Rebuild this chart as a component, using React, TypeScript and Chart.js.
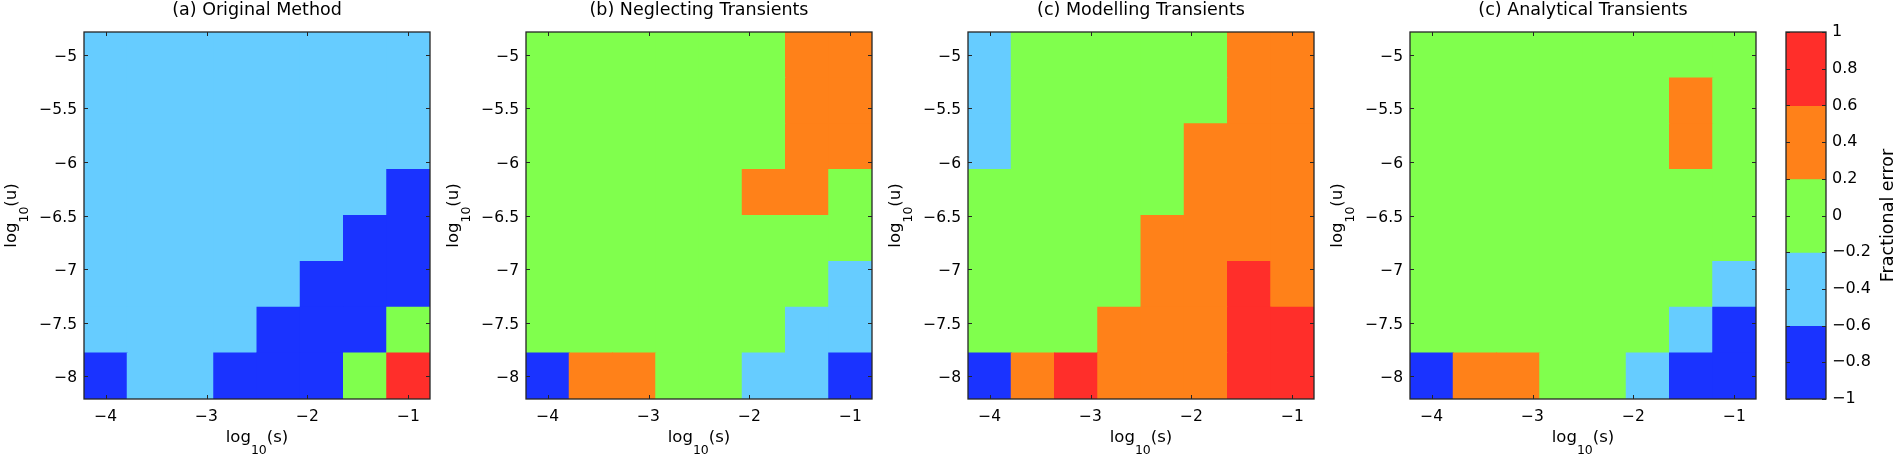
import React, { useEffect, useRef } from "react";
import { Chart, registerables } from "chart.js";

Chart.register(...registerables);

// ---------- data ----------
// log10(s) cell centres (columns, left to right)
const sLog = [-4, -3.5714, -3.1429, -2.7143, -2.2857, -1.8571, -1.4286, -1];
// log10(u) cell centres (rows, top to bottom)
const uLog = [-5, -5.4286, -5.8571, -6.2857, -6.7143, -7.1429, -7.5714, -8];

const xTicks = [-4, -3, -2, -1];
const yTicks = [-8, -7.5, -7, -6.5, -6, -5.5, -5];
const cbTicks = [-1, -0.8, -0.6, -0.4, -0.2, 0, 0.2, 0.4, 0.6, 0.8, 1];

const binEdges = [-1, -0.6, -0.2, 0.2, 0.6, 1];
const binColors = ["#1a33ff", "#66ccff", "#80ff4d", "#ff8119", "#ff2e2a"];

const panelTitles = [
  "(a) Original Method",
  "(b) Neglecting Transients",
  "(c) Modelling Transients",
  "(c) Analytical Transients",
];

// fractional error, rows top (u=-5) to bottom (u=-8)
const errOriginal = [
  [-0.4, -0.4, -0.4, -0.4, -0.4, -0.4, -0.4, -0.4],
  [-0.4, -0.4, -0.4, -0.4, -0.4, -0.4, -0.4, -0.4],
  [-0.4, -0.4, -0.4, -0.4, -0.4, -0.4, -0.4, -0.4],
  [-0.4, -0.4, -0.4, -0.4, -0.4, -0.4, -0.4, -0.8],
  [-0.4, -0.4, -0.4, -0.4, -0.4, -0.4, -0.8, -0.8],
  [-0.4, -0.4, -0.4, -0.4, -0.4, -0.8, -0.8, -0.8],
  [-0.4, -0.4, -0.4, -0.4, -0.8, -0.8, -0.8, 0.0],
  [-0.8, -0.4, -0.4, -0.8, -0.8, -0.8, 0.0, 0.8],
];
const errNeglecting = [
  [0.0, 0.0, 0.0, 0.0, 0.0, 0.0, 0.4, 0.4],
  [0.0, 0.0, 0.0, 0.0, 0.0, 0.0, 0.4, 0.4],
  [0.0, 0.0, 0.0, 0.0, 0.0, 0.0, 0.4, 0.4],
  [0.0, 0.0, 0.0, 0.0, 0.0, 0.4, 0.4, 0.0],
  [0.0, 0.0, 0.0, 0.0, 0.0, 0.0, 0.0, 0.0],
  [0.0, 0.0, 0.0, 0.0, 0.0, 0.0, 0.0, -0.4],
  [0.0, 0.0, 0.0, 0.0, 0.0, 0.0, -0.4, -0.4],
  [-0.8, 0.4, 0.4, 0.0, 0.0, -0.4, -0.4, -0.8],
];
const errModelling = [
  [-0.4, 0.0, 0.0, 0.0, 0.0, 0.0, 0.4, 0.4],
  [-0.4, 0.0, 0.0, 0.0, 0.0, 0.0, 0.4, 0.4],
  [-0.4, 0.0, 0.0, 0.0, 0.0, 0.4, 0.4, 0.4],
  [0.0, 0.0, 0.0, 0.0, 0.0, 0.4, 0.4, 0.4],
  [0.0, 0.0, 0.0, 0.0, 0.4, 0.4, 0.4, 0.4],
  [0.0, 0.0, 0.0, 0.0, 0.4, 0.4, 0.8, 0.4],
  [0.0, 0.0, 0.0, 0.4, 0.4, 0.4, 0.8, 0.8],
  [-0.8, 0.4, 0.8, 0.4, 0.4, 0.4, 0.8, 0.8],
];
const errAnalytical = [
  [0.0, 0.0, 0.0, 0.0, 0.0, 0.0, 0.0, 0.0],
  [0.0, 0.0, 0.0, 0.0, 0.0, 0.0, 0.4, 0.0],
  [0.0, 0.0, 0.0, 0.0, 0.0, 0.0, 0.4, 0.0],
  [0.0, 0.0, 0.0, 0.0, 0.0, 0.0, 0.0, 0.0],
  [0.0, 0.0, 0.0, 0.0, 0.0, 0.0, 0.0, 0.0],
  [0.0, 0.0, 0.0, 0.0, 0.0, 0.0, 0.0, -0.4],
  [0.0, 0.0, 0.0, 0.0, 0.0, 0.0, -0.4, -0.8],
  [-0.8, 0.4, 0.4, 0.0, 0.0, -0.4, -0.8, -0.8],
];

const panelErrors = [errOriginal, errNeglecting, errModelling, errAnalytical];

// ---------- helpers ----------
const FONT = '"DejaVu Sans", sans-serif';
const INK = "#000000";
const FRAME = "#262626";

function colorFor(v: number): string {
  for (let i = 0; i < binColors.length; i++) {
    if (v < binEdges[i + 1] || i === binColors.length - 1) return binColors[i];
  }
  return binColors[binColors.length - 1];
}

function fmt(v: number): string {
  const r = Math.round(v * 10) / 10;
  if (r === 0) return "0";
  return (r < 0 ? "\u2212" : "") + String(Math.abs(r));
}

function drawLogLabel(
  ctx: CanvasRenderingContext2D,
  variable: string,
  cx: number,
  cy: number,
  rotated: boolean
) {
  const mainF = `16.5px ${FONT}`;
  const subF = `12.5px ${FONT}`;
  const parts: [string, string, number][] = [
    ["log", mainF, 0],
    ["10", subF, 12],
    [`(${variable})`, mainF, 0],
  ];
  ctx.save();
  let total = 0;
  const widths = parts.map(([t, f]) => {
    ctx.font = f;
    const w = ctx.measureText(t).width;
    total += w;
    return w;
  });
  ctx.translate(cx, cy);
  if (rotated) ctx.rotate(-Math.PI / 2);
  ctx.fillStyle = INK;
  ctx.textAlign = "left";
  ctx.textBaseline = "alphabetic";
  let x = -total / 2;
  parts.forEach(([t, f, drop], i) => {
    ctx.font = f;
    ctx.fillText(t, x, drop);
    x += widths[i];
  });
  ctx.restore();
}

function drawInwardTicks(chart: any, doX: boolean) {
  const { ctx, chartArea: a, scales } = chart;
  const len = 4;
  ctx.save();
  ctx.strokeStyle = FRAME;
  ctx.lineWidth = 1;
  ctx.beginPath();
  if (doX && scales.x && scales.x.ticks) {
    for (const t of scales.x.ticks) {
      const px = Math.round(scales.x.getPixelForValue(t.value)) + 0.5;
      ctx.moveTo(px, a.bottom);
      ctx.lineTo(px, a.bottom - len);
      ctx.moveTo(px, a.top);
      ctx.lineTo(px, a.top + len);
    }
  }
  for (const t of scales.y.ticks) {
    const py = Math.round(scales.y.getPixelForValue(t.value)) + 0.5;
    ctx.moveTo(a.left, py);
    ctx.lineTo(a.left + len, py);
    ctx.moveTo(a.right, py);
    ctx.lineTo(a.right - len, py);
  }
  ctx.stroke();
  ctx.lineWidth = 1.3;
  ctx.strokeRect(a.left, a.top, a.right - a.left, a.bottom - a.top);
  ctx.restore();
}

const heatmapDecor = {
  id: "heatmapDecor",
  afterDraw(chart: any, _args: any, opts: any) {
    const { ctx, chartArea: a } = chart;
    drawInwardTicks(chart, true);
    const cx = (a.left + a.right) / 2;
    ctx.save();
    ctx.fillStyle = INK;
    ctx.font = `17.5px ${FONT}`;
    ctx.textAlign = "center";
    ctx.textBaseline = "alphabetic";
    ctx.fillText(opts.title, cx, 15);
    ctx.restore();
    drawLogLabel(ctx, "s", cx, 441.7, false);
    drawLogLabel(ctx, "u", a.left - 68, (a.top + a.bottom) / 2, true);
  },
};

const colorbarDecor = {
  id: "colorbarDecor",
  afterDraw(chart: any) {
    const { ctx, chartArea: a } = chart;
    drawInwardTicks(chart, false);
    ctx.save();
    ctx.translate(133, (a.top + a.bottom) / 2);
    ctx.rotate(-Math.PI / 2);
    ctx.fillStyle = INK;
    ctx.font = `17.5px ${FONT}`;
    ctx.textAlign = "center";
    ctx.textBaseline = "alphabetic";
    ctx.fillText("Fractional error", 0, 0);
    ctx.restore();
  },
};

// ---------- components ----------
const PANEL_W = 442;
const H = 459;

function Heatmap({ index }: { index: number }) {
  const ref = useRef<HTMLCanvasElement>(null);
  useEffect(() => {
    const grid = panelErrors[index];
    const halfX = Math.abs(sLog[1] - sLog[0]) / 2;
    const halfY = Math.abs(uLog[0] - uLog[1]) / 2;
    const cells: any[] = [];
    const colors: string[] = [];
    grid.forEach((row, r) => {
      row.forEach((v, c) => {
        cells.push({ x: sLog[c], y: [uLog[r] - halfY, uLog[r] + halfY], v });
        colors.push(colorFor(v));
      });
    });
    const tickFont = { family: FONT, size: 15.5 };
    const chart = new Chart(ref.current as HTMLCanvasElement, {
      type: "bar",
      data: {
        datasets: [
          {
            data: cells,
            backgroundColor: colors,
            borderWidth: 0,
            barPercentage: 1,
            categoryPercentage: 1,
            inflateAmount: 0.5,
          } as any,
        ],
      },
      options: {
        responsive: false,
        animation: false,
        events: [],
        layout: { padding: { top: 32, right: 12, bottom: 0, left: 0 } },
        plugins: {
          legend: { display: false },
          tooltip: { enabled: false },
          heatmapDecor: { title: panelTitles[index] },
        } as any,
        scales: {
          x: {
            type: "linear",
            offset: false,
            min: sLog[0] - halfX,
            max: sLog[sLog.length - 1] + halfX,
            afterBuildTicks: (s: any) => {
              s.ticks = xTicks.map((v) => ({ value: v }));
            },
            afterFit: (s: any) => {
              s.height = H - 399;
            },
            grid: { display: false, drawTicks: false, offset: false },
            border: { display: false },
            ticks: {
              color: INK,
              font: tickFont,
              padding: 9,
              maxRotation: 0,
              autoSkip: false,
              callback: (v: any) => fmt(Number(v)),
            },
          },
          y: {
            type: "linear",
            min: uLog[uLog.length - 1] - halfY,
            max: uLog[0] + halfY,
            afterBuildTicks: (s: any) => {
              s.ticks = yTicks.map((v) => ({ value: v }));
            },
            afterFit: (s: any) => {
              s.width = 84;
            },
            grid: { display: false, drawTicks: false },
            border: { display: false },
            ticks: {
              color: INK,
              font: tickFont,
              padding: 7,
              labelOffset: 2,
              autoSkip: false,
              callback: (v: any) => fmt(Number(v)),
            },
          },
        },
      } as any,
      plugins: [heatmapDecor],
    });
    return () => chart.destroy();
  }, [index]);
  return (
    <canvas
      ref={ref}
      width={PANEL_W}
      height={H}
      style={{ position: "absolute", left: index * PANEL_W, top: 0, display: "block" }}
    />
  );
}

function ColorBar() {
  const ref = useRef<HTMLCanvasElement>(null);
  useEffect(() => {
    const bins = binColors.map((_, i) => ({ x: "bar", y: [binEdges[i], binEdges[i + 1]] }));
    const chart = new Chart(ref.current as HTMLCanvasElement, {
      type: "bar",
      data: {
        labels: ["bar"],
        datasets: [
          {
            data: bins,
            backgroundColor: binColors,
            borderWidth: 0,
            barPercentage: 1,
            categoryPercentage: 1,
            inflateAmount: 0.5,
          } as any,
        ],
      },
      options: {
        responsive: false,
        animation: false,
        events: [],
        layout: { padding: { top: 32, right: 0, bottom: H - 399, left: 26 } },
        plugins: { legend: { display: false }, tooltip: { enabled: false } },
        scales: {
          x: { type: "category", display: false },
          y: {
            type: "linear",
            position: "right",
            min: -1,
            max: 1,
            afterBuildTicks: (s: any) => {
              s.ticks = cbTicks.map((v) => ({ value: v }));
            },
            afterFit: (s: any) => {
              s.width = 70;
            },
            grid: { display: false, drawTicks: false },
            border: { display: false },
            ticks: {
              color: INK,
              font: { family: FONT, size: 16 },
              padding: 6,
              autoSkip: false,
              callback: (v: any) => fmt(Number(v)),
            },
          },
        },
      } as any,
      plugins: [colorbarDecor],
    });
    return () => chart.destroy();
  }, []);
  return (
    <canvas
      ref={ref}
      width={136}
      height={H}
      style={{ position: "absolute", left: 1760, top: 0, display: "block" }}
    />
  );
}

export default function App() {
  return (
    <div
      style={{
        position: "fixed",
        left: 0,
        top: 0,
        width: 1896,
        height: H,
        background: "#ffffff",
        overflow: "hidden",
      }}
    >
      {panelTitles.map((_, i) => (
        <Heatmap key={i} index={i} />
      ))}
      <ColorBar />
    </div>
  );
}
